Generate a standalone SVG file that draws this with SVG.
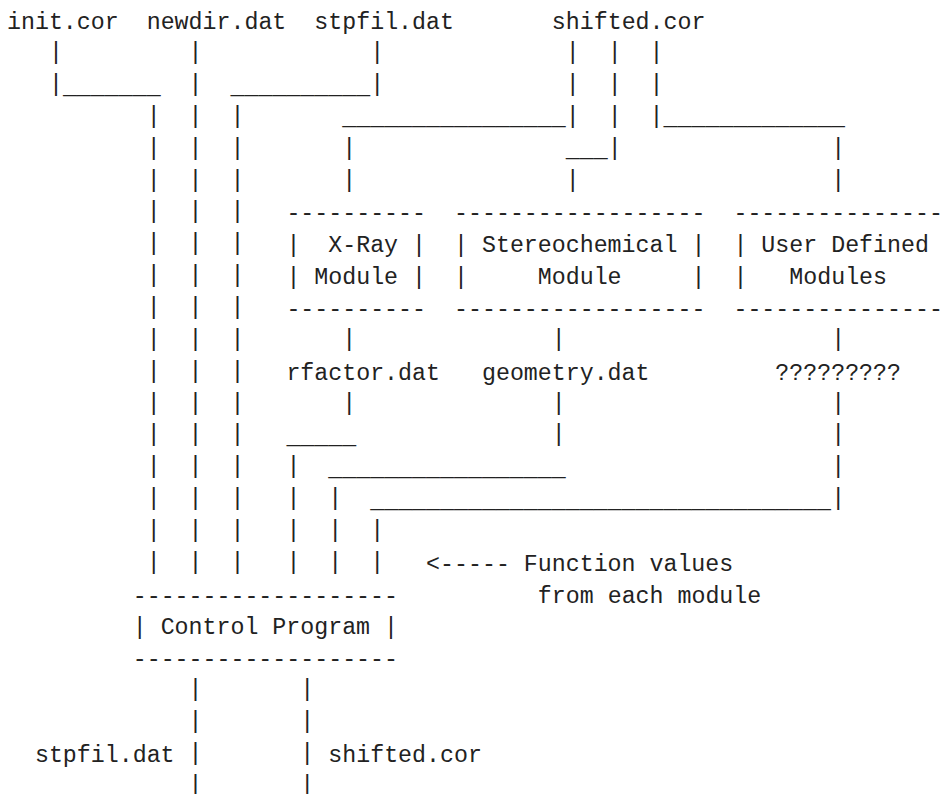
<svg xmlns="http://www.w3.org/2000/svg" width="947" height="794" viewBox="0 0 947 794" xml:space="preserve">
<style>
text { font-family: "Liberation Mono", "DejaVu Sans Mono", monospace; font-size: 23.28px; fill: #222; white-space: pre; }
</style>
<rect width="947" height="794" fill="#fff"/>
<g id="connectors">
<text x="48.91 188.61 370.22 565.8 607.71 649.62" y="59.15">||||||</text>
<text y="91"><tspan x="48.91 188.61 370.22 565.8 607.71 649.62">||||||</tspan><tspan x="62.88" y="93.5">_______</tspan><tspan x="230.52" y="93.5">__________</tspan></text>
<text y="122.85"><tspan x="146.7 188.61 230.52 565.8 607.71 649.62">||||||</tspan><tspan x="342.28" y="125.35">________________</tspan><tspan x="663.59" y="125.35">_____________</tspan></text>
<text y="154.7"><tspan x="146.7 188.61 230.52 342.28 607.71 831.23">||||||</tspan><tspan x="565.8" y="157.2">___</tspan></text>
<text x="146.7 188.61 230.52 342.28 565.8 831.23" y="186.55">||||||</text>
<text x="146.7 188.61 230.52" y="218.4">|||</text>
<text x="146.7 188.61 230.52" y="250.25">|||</text>
<text x="146.7 188.61 230.52" y="282.1">|||</text>
<text x="146.7 188.61 230.52" y="313.95">|||</text>
<text x="146.7 188.61 230.52 342.28 551.83 831.23" y="345.8">||||||</text>
<text x="146.7 188.61 230.52" y="377.65">|||</text>
<text x="146.7 188.61 230.52 342.28 551.83 831.23" y="409.5">||||||</text>
<text y="441.35"><tspan x="146.7 188.61 230.52 551.83 831.23">|||||</tspan><tspan x="286.4" y="443.85">_____</tspan></text>
<text y="473.2"><tspan x="146.7 188.61 230.52 286.4 831.23">|||||</tspan><tspan x="328.31" y="475.7">_________________</tspan></text>
<text y="505.05"><tspan x="146.7 188.61 230.52 286.4 328.31 831.23">||||||</tspan><tspan x="370.22" y="507.55">_________________________________</tspan></text>
<text x="146.7 188.61 230.52 286.4 328.31 370.22" y="536.9">||||||</text>
<text x="146.7 188.61 230.52 286.4 328.31 370.22" y="568.75">||||||</text>
<text x="188.61 300.37" y="696.15">||</text>
<text x="188.61 300.37" y="728">||</text>
<text x="188.61 300.37" y="759.85">||</text>
<text x="188.61 300.37" y="791.7">||</text>
</g>
<g id="init-cor"><text x="7" y="29.3">init.cor</text></g>
<g id="newdir-dat"><text x="146.7" y="29.3">newdir.dat</text></g>
<g id="stpfil-dat-in"><text x="314.34" y="29.3">stpfil.dat</text></g>
<g id="shifted-cor-in"><text x="551.83" y="29.3">shifted.cor</text></g>
<g id="xray-module">
<text x="286.4" y="220.4">----------</text>
<text x="286.4" y="252.25">|  X-Ray |</text>
<text x="286.4" y="284.1">| Module |</text>
<text x="286.4" y="315.95">----------</text>
</g>
<g id="stereo-module">
<text x="454.04" y="220.4">------------------</text>
<text x="454.04" y="252.25">| Stereochemical |</text>
<text x="454.04" y="284.1">|     Module     |</text>
<text x="454.04" y="315.95">------------------</text>
</g>
<g id="user-modules">
<text x="733.44" y="220.4">---------------</text>
<text x="733.44" y="252.25">| User Defined</text>
<text x="733.44" y="284.1">|   Modules</text>
<text x="733.44" y="315.95">---------------</text>
</g>
<g id="rfactor-dat"><text x="286.4" y="379.65">rfactor.dat</text></g>
<g id="geometry-dat"><text x="481.98" y="379.65">geometry.dat</text></g>
<g id="unknown-output"><text x="775.35" y="379.65">?????????</text></g>
<g id="function-values-note">
<text x="426.1" y="570.75">&lt;----- Function values</text>
<text x="537.86" y="602.6">from each module</text>
</g>
<g id="control-program">
<text x="132.73" y="602.6">-------------------</text>
<text x="132.73" y="634.45">| Control Program |</text>
<text x="132.73" y="666.3">-------------------</text>
</g>
<g id="stpfil-dat-out"><text x="34.94" y="761.85">stpfil.dat</text></g>
<g id="shifted-cor-out"><text x="328.31" y="761.85">shifted.cor</text></g>
</svg>
